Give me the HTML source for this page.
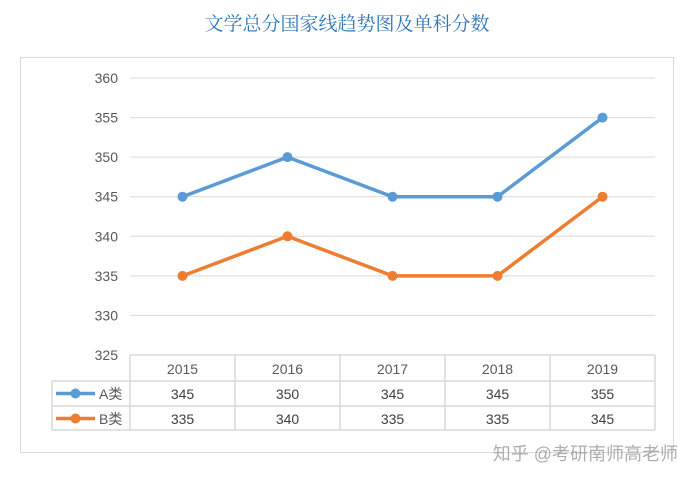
<!DOCTYPE html>
<html><head><meta charset="utf-8"><style>
body{margin:0;width:693px;height:478px;background:#fff;overflow:hidden;font-family:"Liberation Sans","Noto Sans CJK SC",sans-serif}
</style></head><body>
<svg width="693" height="478" xmlns="http://www.w3.org/2000/svg">
<text x="347" y="30" text-anchor="middle" font-family="'Liberation Serif','Noto Serif CJK SC',serif" font-size="19" fill="#2e75b6">文学总分国家线趋势图及单科分数</text>
<rect x="20.5" y="57.5" width="653" height="395" fill="none" stroke="#d9d9d9"/>
<g id="grid"></g><g id="table"></g><g id="series"></g>
<text x="678" y="460" text-anchor="end" font-size="18" fill="#999" opacity="0.8">知乎 @考研南师高老师</text>
</svg>
<script>
const years=["2015","2016","2017","2018","2019"];
const seriesA=[345,350,345,345,355];
const seriesB=[335,340,335,335,345];
const yTicks=[325,330,335,340,345,350,355,360];
const NS="http://www.w3.org/2000/svg";
const x0=130,x1=655,yTop=78,yBot=355,yMin=325,yMax=360;
const step=(x1-x0)/years.length;
const xs=i=>x0+step*(i+0.5);
const ys=v=>yBot-(v-yMin)/(yMax-yMin)*(yBot-yTop);
function mk(t,a,p){const e=document.createElementNS(NS,t);for(const k in a)e.setAttribute(k,a[k]);p.appendChild(e);return e;}
const g=document.getElementById('grid'),tb=document.getElementById('table'),sg=document.getElementById('series');
yTicks.forEach(v=>{
 if(v>yMin){const l=mk('line',{x1:x0,x2:x1,y1:ys(v),y2:ys(v),stroke:'#d9d9d9'},g);
 
 }
 const t=mk('text',{x:118,y:ys(v)+5,'text-anchor':'end','font-size':14,fill:'#595959'},g);t.textContent=v;
 
 
});
const r0=355,r1=381,r2=406,r3=430,lx=52;
const st={stroke:'#d9d9d9','stroke-width':1.5};
mk('line',Object.assign({x1:x0,x2:x1,y1:r0,y2:r0},st),tb);
[r1,r2,r3].forEach(y=>mk('line',Object.assign({x1:lx,x2:x1,y1:y,y2:y},st),tb));
mk('line',Object.assign({x1:lx,x2:lx,y1:r1,y2:r3},st),tb);
for(let i=0;i<=years.length;i++)mk('line',Object.assign({x1:x0+step*i,x2:x0+step*i,y1:r0,y2:r3},st),tb);
years.forEach((y,i)=>{
 const t=mk('text',{x:xs(i),y:r0+19,'text-anchor':'middle','font-size':14,fill:'#595959'},tb);t.textContent=y;
 
 
 const a=mk('text',{x:xs(i),y:r1+18,'text-anchor':'middle','font-size':14,fill:'#404040'},tb);a.textContent=seriesA[i];
 
 
 const b=mk('text',{x:xs(i),y:r2+18,'text-anchor':'middle','font-size':14,fill:'#404040'},tb);b.textContent=seriesB[i];
 
 
});
[[seriesA,'#5b9bd5','A类',r1],[seriesB,'#ed7d31','B类',r2]].forEach(([d,c,n,ry],k)=>{
 const cy=ry+12.5;
 const lg=mk('g',{},tb);
 
 
 mk('line',{x1:56,x2:95,y1:cy,y2:cy,stroke:c,'stroke-width':3.5},lg);
 mk('circle',{cx:75.5,cy:cy,r:5,fill:c},lg);
 const t=mk('text',{x:99,y:cy+5.5,'font-size':14,fill:'#595959'},lg);t.textContent=n;
 const p=mk('polyline',{points:d.map((v,i)=>xs(i)+','+ys(v)).join(' '),fill:'none',stroke:c,'stroke-width':3.5,'stroke-linejoin':'round'},sg);
 
 
 d.forEach((v,i)=>{const m=mk('circle',{cx:xs(i),cy:ys(v),r:5,fill:c},sg);
  
  });
});
</script>
</body></html>
